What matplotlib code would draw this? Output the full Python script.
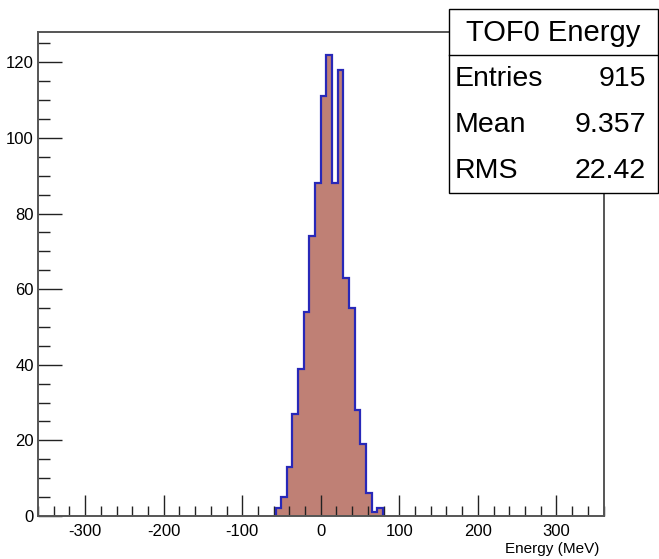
import numpy as np
import matplotlib
matplotlib.use("Agg")
import matplotlib.pyplot as plt
from matplotlib.patches import Rectangle
from matplotlib.ticker import MultipleLocator

# histogram data
bin_edges_start = -57.6
bin_width = 7.2
counts = [2, 5, 13, 27, 39, 54, 74, 88, 111, 122, 88, 118, 63, 55, 28, 19, 6, 1, 2]
x_range = [-360, 360]
stats_title = "TOF0 Energy"
stats_labels = ["Entries", "Mean", "RMS"]
stats_values = ["915", "9.357", "22.42"]
x_label = "Energy (MeV)"

edges = bin_edges_start + bin_width * np.arange(len(counts) + 1)

plt.rcParams["font.family"] = ["Liberation Sans", "DejaVu Sans"]
plt.rcParams["axes.unicode_minus"] = False

fig = plt.figure(figsize=(6.59, 5.59), dpi=100)
W, H = 659, 559
ax = fig.add_axes([38 / W, 1 - 516 / H, (603.5 - 38) / W, (516 - 31.7) / H])

ax.stairs(counts, edges, fill=True, color="#bf8075", zorder=1)
ax.stairs(counts, edges, fill=False, color="#2828b8", linewidth=1.6, zorder=2)

ax.set_xlim(*x_range)
ax.set_ylim(0, 1.05 * max(counts))

ax.xaxis.set_major_locator(MultipleLocator(100))
ax.xaxis.set_minor_locator(MultipleLocator(20))
ax.yaxis.set_major_locator(MultipleLocator(20))
ax.yaxis.set_minor_locator(MultipleLocator(5))

ax.tick_params(which="both", direction="in", top=False, right=False, color="#222222", width=1.0)
ax.tick_params(axis="x", which="major", length=15, labelsize=12, pad=6)
ax.tick_params(axis="x", which="minor", length=7)
ax.tick_params(axis="y", which="major", length=17.5, labelsize=12, pad=3)
ax.tick_params(axis="y", which="minor", length=8.5)

for s in ax.spines.values():
    s.set_color("#555555")
    s.set_linewidth(1.4)

fig.text(599 / W, 1 - 549 / H, x_label, ha="right", va="center", fontsize=11)

# stats box
box_l, box_r, box_t, box_b = 448.5, 657.5, 9.5, 192.5
sep_y = 55
fig.patches.append(Rectangle((box_l / W, 1 - box_b / H), (box_r - box_l) / W, (box_b - box_t) / H,
                             transform=fig.transFigure, facecolor="white", edgecolor="black",
                             linewidth=1.0, zorder=5))
fig.add_artist(plt.Line2D([box_l / W, box_r / W], [1 - sep_y / H, 1 - sep_y / H],
                          transform=fig.transFigure, color="black", linewidth=1.0, zorder=6))
fig.text((box_l + box_r) / 2 / W, 1 - 33 / H, stats_title, ha="center", va="center",
         fontsize=21, zorder=7)
row_y = [79, 125, 171]
for lab, val, yy in zip(stats_labels, stats_values, row_y):
    fig.text(455 / W, 1 - yy / H, lab, ha="left", va="center", fontsize=20.5, zorder=7)
    fig.text(646 / W, 1 - yy / H, val, ha="right", va="center", fontsize=20.5, zorder=7)

fig.savefig("out.png", dpi=100)
